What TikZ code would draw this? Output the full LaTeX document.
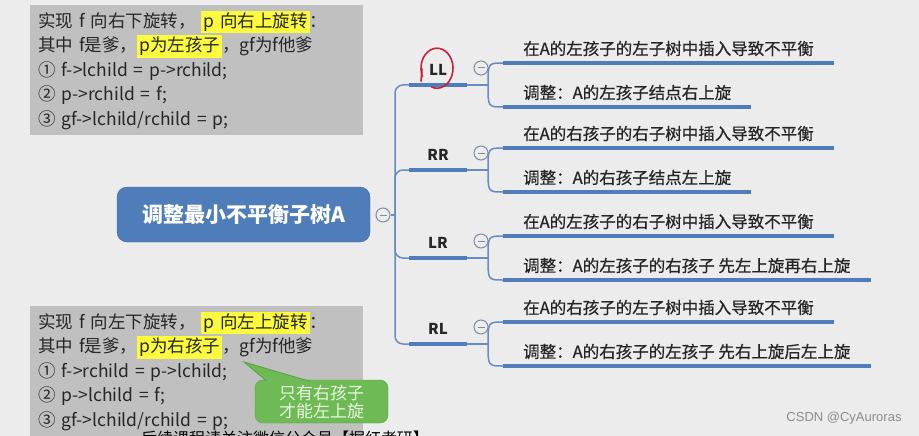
\documentclass[tikz,border=0pt]{standalone}
\usepackage{fontspec}
\setmainfont{Noto Sans CJK SC}
\newfontface\leafface{Noto Sans CJK SC}[FakeBold=0.6]
\newfontfamily\wmfont{Liberation Sans}
\usetikzlibrary{positioning,calc}
\definecolor{canvas}{RGB}{236,236,236}
\definecolor{memogray}{RGB}{192,192,192}
\definecolor{hiyellow}{RGB}{252,250,60}
\definecolor{mapblue}{RGB}{79,125,186}
\definecolor{stemblue}{RGB}{104,140,192}
\definecolor{foldgray}{RGB}{128,140,162}
\definecolor{ink}{RGB}{38,38,38}
\definecolor{hintgreen}{RGB}{110,186,84}
\definecolor{hintedge}{RGB}{88,160,70}
\definecolor{hinttext}{RGB}{232,246,222}
\definecolor{redink}{RGB}{200,32,52}
\newcommand{\hlmark}[1]{{\setlength{\fboxsep}{2pt}\colorbox{hiyellow}{#1}}}
\tikzset{
  memo/.style={fill=memogray, anchor=north west, minimum width=333pt, minimum height=130pt,
               text width=317pt, inner xsep=8pt, inner ysep=5pt, align=left,
               font=\fontsize{17.5}{24.5}\selectfont, text=ink},
  topic/.style={fill=mapblue, draw=mapblue!85!black, rounded corners=10pt, minimum width=253pt,
               minimum height=55pt, text=white, font=\fontsize{21}{21}\selectfont\bfseries},
  tag/.style={font=\fontsize{15}{15}\selectfont\bfseries, text=ink, minimum width=58pt,
               anchor=south, text depth=0pt, inner ysep=9pt, inner xsep=0pt},
  leaf/.style={font=\leafface\fontsize{16.5}{16.5}\selectfont, text=ink, anchor=south west,
               inner xsep=20pt, inner ysep=5pt, text height=13pt, text depth=3pt},
  fold/.style={circle, draw=foldgray, fill=canvas, line width=1pt, minimum size=14pt, inner sep=0pt,
               path picture={\draw[foldgray, line width=1pt]
                 ([xshift=-3.5pt]path picture bounding box.center) -- ([xshift=3.5pt]path picture bounding box.center);}},
  stem/.style={draw=stemblue, line width=1.5pt},
  bar/.style={draw=mapblue, line width=4.5pt},
  leafline/.style={draw=mapblue, line width=3.5pt},
  hint/.style={fill=hintgreen, draw=hintedge, rounded corners=8pt, minimum width=133pt,
               minimum height=43pt, align=center, text=hinttext, font=\fontsize{17}{18}\selectfont},
  pen/.style={draw=redink, line width=1.6pt, line cap=round},
}

\begin{document}
\begin{tikzpicture}[x=1pt, y=-1pt]
  \useasboundingbox (0,0) rectangle (919,436);
  \fill[canvas] (0,0) rectangle (919,436);

  % rotation notes
  \node[memo] (rnote) at (30,5) {实现 f 向右下旋转， \hlmark{p 向右上旋转}：\\
    其中 f是爹，\hlmark{p为左孩子}，gf为f他爹\\
    ① f->lchild = p->rchild;\\
    ② p->rchild = f;\\
    ③ gf->lchild/rchild = p;};
  \node[memo] (lnote) at (30,306) {实现 f 向左下旋转， \hlmark{p 向左上旋转}：\\
    其中 f是爹，\hlmark{p为右孩子}，gf为f他爹\\
    ① f->rchild = p->lchild;\\
    ② p->lchild = f;\\
    ③ gf->lchild/rchild = p;};

  \node[hint] (hint) at (321.5,401.5) {只有右孩子\\才能左上旋};
  \coordinate (hint-tip) at (244,362);
  \fill[hintgreen] ([xshift=12pt,yshift=-1.5pt]hint.north west) -- (hint-tip) -- ([xshift=55pt,yshift=-1.5pt]hint.north west) -- cycle;
  \draw[hintedge, line width=0.8pt] ([xshift=12pt,yshift=-1.5pt]hint.north west) -- (hint-tip) -- ([xshift=55pt,yshift=-1.5pt]hint.north west);

  % mind map
  \node[topic] (topic) at (243.5,214.5) {调整最小不平衡子树A};
  \coordinate (hub) at (395,215);
  \node[fold] (topic-fold) at (383,215) {};
  \draw[stem] (topic-fold) -- (hub);

  \foreach \name/\y/\up/\down in {
      LL/85/{在A的左孩子的左子树中插入导致不平衡}/{调整：A的左孩子结点右上旋},
      RR/170/{在A的右孩子的右子树中插入导致不平衡}/{调整：A的右孩子结点左上旋},
      LR/258/{在A的左孩子的右子树中插入导致不平衡}/{调整：A的左孩子的右孩子 先左上旋再右上旋},
      RL/344/{在A的右孩子的左子树中插入导致不平衡}/{调整：A的右孩子的左孩子 先右上旋后左上旋}} {
    \node[tag] (\name) at (438,\y) {\name};
    \node[fold] (\name-fold) at (481,\y-17) {};
    \coordinate (\name-fork) at (488,\y);
    \node[leaf] (\name-up) at (503,\y-22) {\up};
    \node[leaf] (\name-down) at (503,\y+22) {\down};
    \draw[stem, rounded corners=8pt] (hub) |- (\name.south west);
    \draw[bar] (\name.south west) -- (\name.south east);
    \draw[stem] (\name.south east) -- (\name-fork);
    \draw[stem] (\name-fork) .. controls (\name-fork |- \name-up.south west) .. (\name-up.south west);
    \draw[stem] (\name-fork) .. controls (\name-fork |- \name-down.south west) .. (\name-down.south west);
    \draw[leafline] (\name-up.south west) -- (\name-up.south east);
    \draw[leafline] (\name-down.south west) -- (\name-down.south east);
  }

  % hand mark round LL
  \draw[pen] ([shift={(-1,-2)}]LL.center) ++(205:16pt and 20pt)
    arc[start angle=205, end angle=-110, x radius=16pt, y radius=20pt];
  \draw[pen] ([shift={(-16,-1)}]LL.center) -- ++(-1,12);

  \node[font=\fontsize{16}{16}\selectfont, text=black] (subtitle) at (285,438) {后续课程请关注微信公众号【掘红考研】};
  \node[font=\wmfont\fontsize{13}{13}\selectfont, text=black!45] (mark) at (844,418) {CSDN @CyAuroras};
\end{tikzpicture}
\end{document}
